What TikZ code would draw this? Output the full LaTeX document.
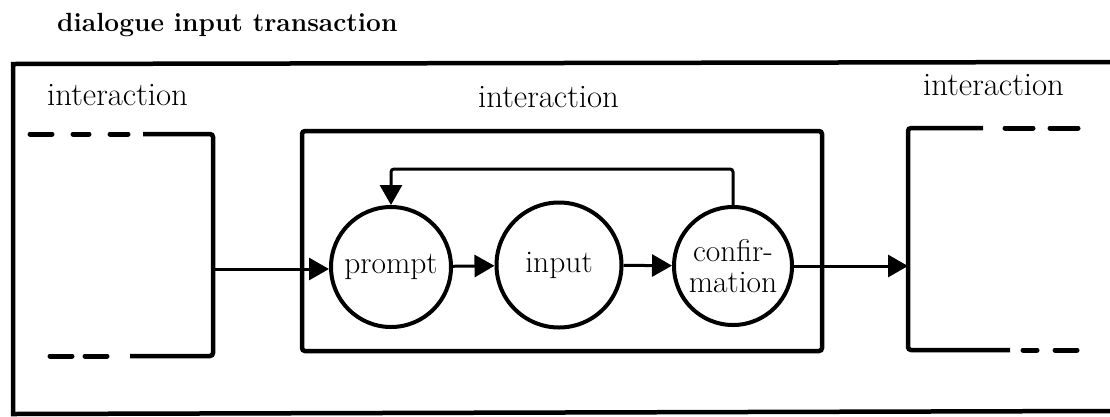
\documentclass[tikz,border=0pt]{standalone}
\usetikzlibrary{arrows.meta}
\begin{document}
\begin{tikzpicture}[x=1pt,y=-1pt,
  frame/.style={line width=4.5pt, line cap=round},
  boxline/.style={line width=4.5pt, rounded corners=3pt},
  dashpiece/.style={line width=5pt, line cap=round},
  state/.style={circle, draw, line width=4pt, inner sep=0pt,
    font=\fontsize{31.5}{31}\selectfont, align=center},
  flow/.style={line width=3pt, -{Triangle[length=20pt,width=22pt]}},
  label/.style={font=\fontsize{32.8}{34}\selectfont, anchor=base west, inner sep=0pt}]
\useasboundingbox (0,0) rectangle (1110,416);

% heading
\node[anchor=base west, inner sep=0pt, font=\bfseries\fontsize{26.3}{28}\selectfont]
  (title) at (57,31) {dialogue input transaction};

% outer frame of the transaction (open to the right)
\draw[frame] (1110,62) -- (13,64) -- (13,414) -- (1110,411);

% interaction labels
\node[label] (lblL) at (47,105) {interaction};
\node[label] (lblM) at (478,107) {interaction};
\node[label] (lblR) at (923,95) {interaction};

% preceding interaction (left)
\coordinate (lout) at (213,269);
\draw[boxline] (143,134) -- (213,134) -- (213,356) -- (130,356);
\foreach \a/\b in {30/52, 73/89, 110/128}
  \draw[dashpiece] (\a,134) -- (\b,134);
\foreach \a/\b in {50/72, 85/107}
  \draw[dashpiece] (\a,356) -- (\b,356);

% current interaction (middle)
\draw[boxline] (302,131) rectangle (822,351);

% following interaction (right)
\draw[boxline] (983,128) -- (908,128) -- (908,350) -- (1010,350);
\foreach \a/\b in {1005/1033, 1050/1078}
  \draw[dashpiece] (\a,128) -- (\b,128);
\foreach \a/\b in {1023/1037, 1055/1077}
  \draw[dashpiece] (\a,350) -- (\b,350);

% states of the interaction
\node[state, minimum size=120pt] (prompt) at (391,267) {prompt};
\node[state, minimum size=125pt] (input)  at (559,265) {input};
\node[state, minimum size=118pt] (conf)   at (733,266) {confir-\\mation};
\coordinate (rin) at (908,266);

% flow
\draw[flow] (lout) -- (lout -| prompt.west);
\draw[flow] (prompt) -- (input);
\draw[flow] (input) -- (conf);
\draw[flow] (conf.east) -- (rin);
\draw[flow, rounded corners=3pt] (conf.north) -- ++(0,-36) -| (prompt.north);
\end{tikzpicture}
\end{document}
